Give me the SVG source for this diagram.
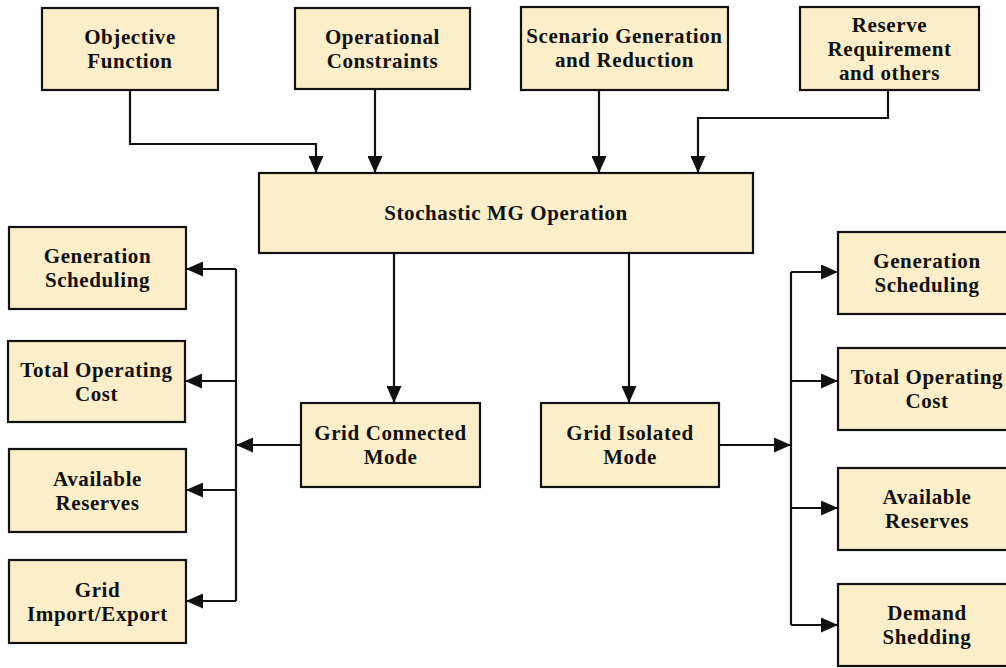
<svg xmlns="http://www.w3.org/2000/svg" width="1006" height="668" viewBox="0 0 1006 668">
  <style>
    .box { fill: #FCEEC8; stroke: #111; stroke-width: 2.2; }
    .lbl { font-family: "Liberation Serif", "Times New Roman", serif; font-weight: bold; font-size: 21px; letter-spacing: 0.6px; fill: #111; text-anchor: middle; }
    .wire { fill: none; stroke: #111; stroke-width: 2.2; }
    .arr { marker-end: url(#head); }
  </style>
  <defs>
    <marker id="head" markerUnits="userSpaceOnUse" markerWidth="18" markerHeight="15" refX="17" refY="7.5" orient="auto">
      <path d="M0,0 L17,7.5 L0,15 Z" fill="#111"/>
    </marker>
  </defs>
  <rect width="1006" height="668" fill="#ffffff"/>

  <!-- connectors -->
  <g id="connectors">
    <path class="wire arr" d="M130,90 V144 H316 V173"/>
    <path class="wire arr" d="M375,89 V173"/>
    <path class="wire arr" d="M599,90 V173"/>
    <path class="wire arr" d="M888,90 V118 H698 V173"/>
    <path class="wire arr" d="M394,253 V403"/>
    <path class="wire arr" d="M629,253 V403"/>
    <!-- grid connected branch -->
    <path class="wire arr" d="M301,445 H236"/>
    <path class="wire" d="M236,269 V601"/>
    <path class="wire arr" d="M236,269 H186"/>
    <path class="wire arr" d="M236,381 H185"/>
    <path class="wire arr" d="M236,490 H186"/>
    <path class="wire arr" d="M236,601 H186"/>
    <!-- grid isolated branch -->
    <path class="wire arr" d="M719,445 H791"/>
    <path class="wire" d="M791,272 V625"/>
    <path class="wire arr" d="M791,272 H838"/>
    <path class="wire arr" d="M791,381 H838"/>
    <path class="wire arr" d="M791,508 H838"/>
    <path class="wire arr" d="M791,625 H838"/>
  </g>

  <!-- top inputs -->
  <g id="objective-function">
    <rect class="box" x="42" y="8" width="176" height="82"/>
    <text class="lbl" x="130" y="44">Objective</text>
    <text class="lbl" x="130" y="68">Function</text>
  </g>
  <g id="operational-constraints">
    <rect class="box" x="295" y="8" width="175" height="81"/>
    <text class="lbl" x="382.5" y="44">Operational</text>
    <text class="lbl" x="382.5" y="68">Constraints</text>
  </g>
  <g id="scenario-generation">
    <rect class="box" x="521" y="7" width="207" height="83"/>
    <text class="lbl" x="624.5" y="43">Scenario Generation</text>
    <text class="lbl" x="624.5" y="67">and Reduction</text>
  </g>
  <g id="reserve-requirement">
    <rect class="box" x="800" y="7" width="179" height="83"/>
    <text class="lbl" x="889.5" y="32">Reserve</text>
    <text class="lbl" x="889.5" y="56">Requirement</text>
    <text class="lbl" x="889.5" y="80">and others</text>
  </g>

  <!-- central node -->
  <g id="stochastic-mg-operation">
    <rect class="box" x="259" y="173" width="494" height="80"/>
    <text class="lbl" x="506" y="220">Stochastic MG Operation</text>
  </g>

  <!-- operating modes -->
  <g id="grid-connected-mode">
    <rect class="box" x="301" y="403" width="179" height="84"/>
    <text class="lbl" x="390.5" y="440">Grid Connected</text>
    <text class="lbl" x="390.5" y="464">Mode</text>
  </g>
  <g id="grid-isolated-mode">
    <rect class="box" x="541" y="403" width="178" height="84"/>
    <text class="lbl" x="630" y="440">Grid Isolated</text>
    <text class="lbl" x="630" y="464">Mode</text>
  </g>

  <!-- grid connected outputs -->
  <g id="gc-generation-scheduling">
    <rect class="box" x="9" y="227" width="177" height="82"/>
    <text class="lbl" x="97.5" y="263">Generation</text>
    <text class="lbl" x="97.5" y="287">Scheduling</text>
  </g>
  <g id="gc-total-operating-cost">
    <rect class="box" x="8" y="341" width="177" height="81"/>
    <text class="lbl" x="96.5" y="377">Total Operating</text>
    <text class="lbl" x="96.5" y="401">Cost</text>
  </g>
  <g id="gc-available-reserves">
    <rect class="box" x="9" y="449" width="177" height="83"/>
    <text class="lbl" x="97.5" y="486">Available</text>
    <text class="lbl" x="97.5" y="510">Reserves</text>
  </g>
  <g id="gc-grid-import-export">
    <rect class="box" x="9" y="560" width="177" height="83"/>
    <text class="lbl" x="97.5" y="597">Grid</text>
    <text class="lbl" x="97.5" y="621">Import/Export</text>
  </g>

  <!-- grid isolated outputs -->
  <g id="gi-generation-scheduling">
    <rect class="box" x="838" y="232" width="178" height="82"/>
    <text class="lbl" x="927" y="268">Generation</text>
    <text class="lbl" x="927" y="292">Scheduling</text>
  </g>
  <g id="gi-total-operating-cost">
    <rect class="box" x="838" y="348" width="178" height="82"/>
    <text class="lbl" x="927" y="384">Total Operating</text>
    <text class="lbl" x="927" y="408">Cost</text>
  </g>
  <g id="gi-available-reserves">
    <rect class="box" x="838" y="468" width="178" height="82"/>
    <text class="lbl" x="927" y="504">Available</text>
    <text class="lbl" x="927" y="528">Reserves</text>
  </g>
  <g id="gi-demand-shedding">
    <rect class="box" x="838" y="584" width="178" height="82"/>
    <text class="lbl" x="927" y="620">Demand</text>
    <text class="lbl" x="927" y="644">Shedding</text>
  </g>
</svg>
